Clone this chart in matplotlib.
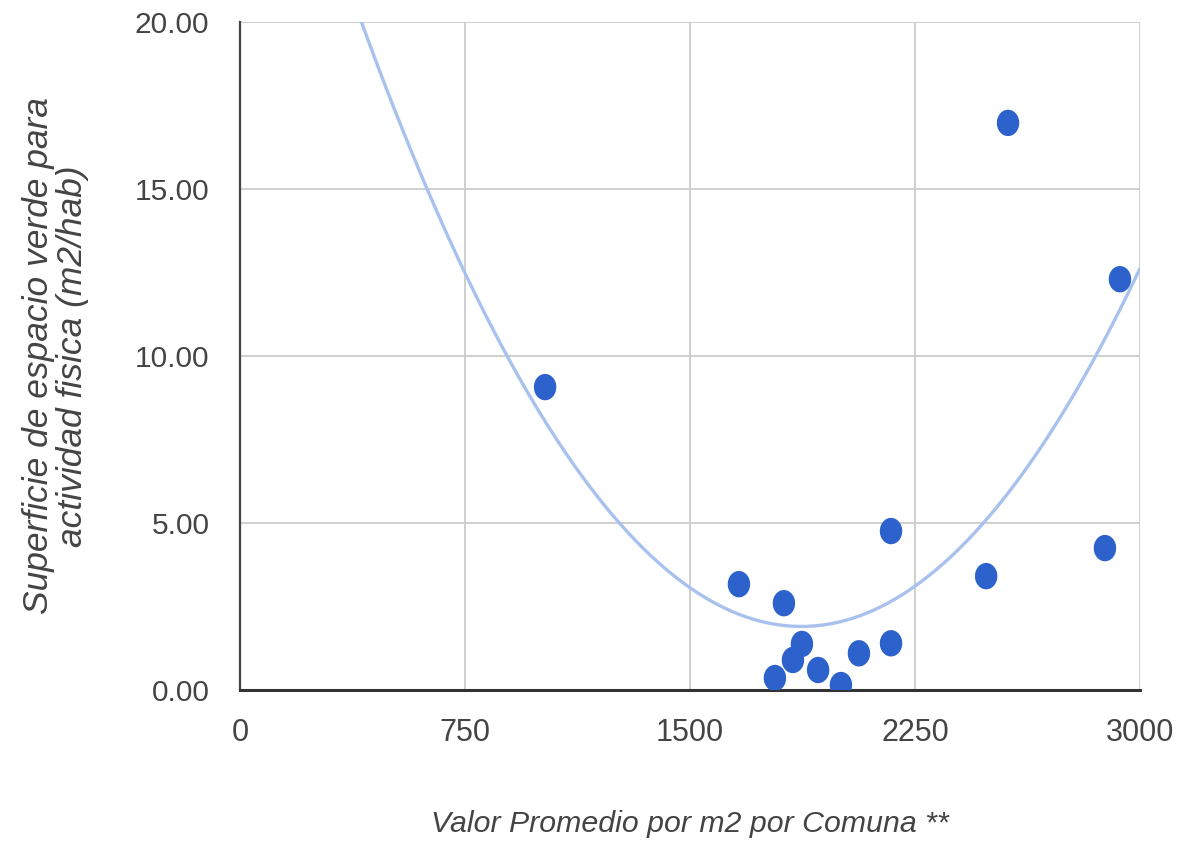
import numpy as np
import matplotlib
matplotlib.use("Agg")
import matplotlib.pyplot as plt
from matplotlib.path import Path

valor_m2 = [1017, 1663, 1813, 1783, 1843, 1873, 1927, 2003, 2063, 2170, 2170, 2487, 2560, 2883, 2933]
superficie = [9.07, 3.17, 2.60, 0.36, 0.90, 1.38, 0.60, 0.15, 1.10, 4.76, 1.40, 3.41, 16.98, 4.25, 12.30]

x_ticks = [0, 750, 1500, 2250, 3000]
y_ticks = [0, 5, 10, 15, 20]
y_tick_labels = ["0.00", "5.00", "10.00", "15.00", "20.00"]

plt.rcParams["font.family"] = ["Liberation Sans", "DejaVu Sans"]

fig = plt.figure(figsize=(11.77, 8.41), dpi=100)
ax = fig.add_axes([0.2039, 0.1795, 0.7647, 0.7943])

# trendline (polynomial, degree 2)
coef = np.polyfit(valor_m2, superficie, 2)
xs = np.linspace(0, 3000, 400)
ax.plot(xs, np.polyval(coef, xs), color="#a9c1ee", lw=2.4, zorder=2, solid_capstyle="butt")

t = np.linspace(0, 2 * np.pi, 60)
ell = Path(np.column_stack([0.85 * np.cos(t), np.sin(t)]))
ax.scatter(valor_m2, superficie, marker=ell, s=19**2, color="#2d62cc", edgecolors="none", zorder=3)

ax.set_xlim(0, 3000)
ax.set_ylim(0, 20)
ax.set_xticks(x_ticks)
ax.set_yticks(y_ticks)
ax.set_yticklabels(y_tick_labels)
ax.grid(True, color="#cccccc", lw=1.3, zorder=0)
ax.set_axisbelow(True)
for s in ["top", "right"]:
    ax.spines[s].set_visible(False)
ax.spines["left"].set_color("#444444")
ax.spines["bottom"].set_color("#333333")
ax.spines["left"].set_linewidth(1.6)
ax.spines["bottom"].set_linewidth(2.2)
ax.tick_params(axis="y", length=0, labelsize=21.5, colors="#444444", pad=22)
ax.tick_params(axis="x", length=0, labelsize=22, colors="#444444", pad=20)

ax.set_xlabel("Valor Promedio por m2 por Comuna **", fontsize=21.8, style="italic", color="#444444", labelpad=45)
ax.set_ylabel("Superficie de espacio verde para\nactividad fisica (m2/hab)", fontsize=25.5, style="italic",
              color="#444444", labelpad=33, linespacing=1.05)

fig.savefig("out.png", dpi=100)
